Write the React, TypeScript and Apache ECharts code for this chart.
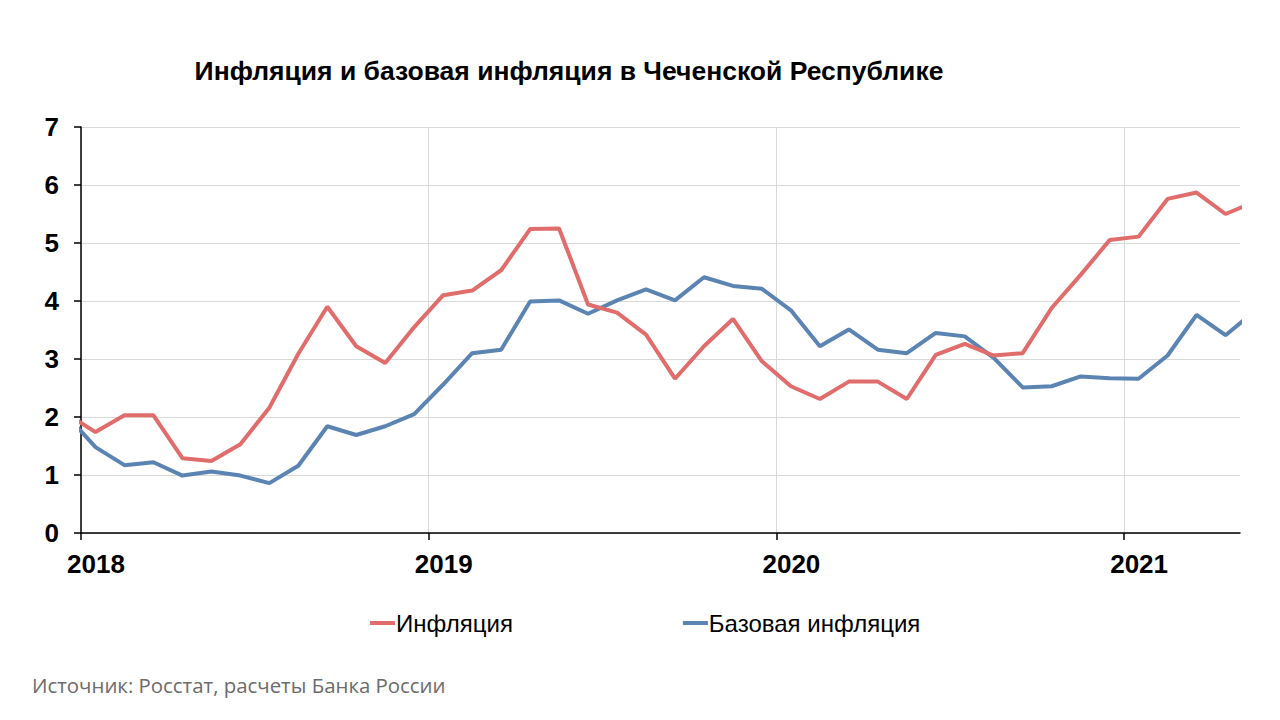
import React, { useEffect, useRef } from "react";
import * as echarts from "echarts";

// Months from Dec 2017 to May 2021 (end points are clipped by the axis range)
const months = [
  "2017-12",
  "2018-01", "2018-02", "2018-03", "2018-04", "2018-05", "2018-06", "2018-07", "2018-08", "2018-09", "2018-10", "2018-11", "2018-12",
  "2019-01", "2019-02", "2019-03", "2019-04", "2019-05", "2019-06", "2019-07", "2019-08", "2019-09", "2019-10", "2019-11", "2019-12",
  "2020-01", "2020-02", "2020-03", "2020-04", "2020-05", "2020-06", "2020-07", "2020-08", "2020-09", "2020-10", "2020-11", "2020-12",
  "2021-01", "2021-02", "2021-03", "2021-04", "2021-05",
];

const inflation = [
  2.06,
  1.74, 2.03, 2.03, 1.29, 1.24, 1.53, 2.16, 3.09, 3.9, 3.22, 2.93, 3.55,
  4.1, 4.18, 4.53, 5.24, 5.25, 3.94, 3.8, 3.42, 2.66, 3.22, 3.69, 2.96,
  2.53, 2.31, 2.61, 2.61, 2.31, 3.07, 3.26, 3.06, 3.1, 3.88, 4.45, 5.05,
  5.11, 5.76, 5.87, 5.5, 5.71,
];

const coreInflation = [
  2.03,
  1.48, 1.17, 1.22, 0.99, 1.06, 0.99, 0.86, 1.16, 1.84, 1.69, 1.84, 2.05,
  2.56, 3.1, 3.16, 3.99, 4.01, 3.78, 4.01, 4.2, 4.01, 4.41, 4.26, 4.21,
  3.84, 3.22, 3.51, 3.16, 3.1, 3.45, 3.39, 3.02, 2.51, 2.53, 2.7, 2.67,
  2.66, 3.06, 3.76, 3.41, 3.82,
];

const yearLabels = ["2018", "2019", "2020", "2021"];
const yTicks = [0, 1, 2, 3, 4, 5, 6, 7];

const titleText = "Инфляция и базовая инфляция в Чеченской Республике";
const sourceText = "Источник: Росстат, расчеты Банка России";
const seriesNames = ["Инфляция", "Базовая инфляция"];

// month offset from Jan 2018, points sit in the middle of each month
const monthPos = (m: string) => {
  const [y, mo] = m.split("-").map(Number);
  return (y - 2018) * 12 + (mo - 1) + 0.5;
};

const FONT = "'Liberation Sans', Arial, sans-serif";

export default function App() {
  const ref = useRef<HTMLDivElement>(null);

  useEffect(() => {
    if (!ref.current) return;
    const chart = echarts.init(ref.current, undefined, { renderer: "svg" });
    const infData = months.map((m, i) => [monthPos(m), inflation[i]]);
    const coreData = months.map((m, i) => [monthPos(m), coreInflation[i]]);

    chart.setOption({
      animation: false,
      backgroundColor: "#ffffff",
      textStyle: { fontFamily: FONT },
      grid: { left: 81, right: 40, top: 127, bottom: 187 },
      graphic: [
        {
          type: "text",
          x: 569,
          y: 71,
          style: {
            text: titleText,
            font: `bold 26.5px ${FONT}`,
            fill: "#000000",
            textAlign: "center",
            textVerticalAlign: "middle",
          },
        },
        {
          type: "text",
          x: 32,
          y: 685,
          style: {
            text: sourceText,
            font: `20.4px 'Open Sans', sans-serif`,
            fill: "#6b6b6b",
            textAlign: "left",
            textVerticalAlign: "middle",
          },
        },
      ],
      legend: {
        left: 365,
        top: 606,
        itemWidth: 25,
        itemHeight: 4,
        itemGap: 170,
        icon: "rect",
        textStyle: { fontSize: 24, color: "#000", fontFamily: FONT, padding: [0, 0, 0, -4] },
        data: seriesNames,
      },
      xAxis: {
        type: "value",
        min: 0,
        max: 40,
        interval: 12,
        axisLine: { show: true, lineStyle: { color: "#000", width: 1.5 } },
        axisTick: {
          show: true,
          length: 7,
          lineStyle: { color: "#000", width: 1.5 },
          customValues: [0, 12, 24, 36],
        },
        axisLabel: {
          customValues: [0, 12, 24, 36],
          formatter: (v: number) => yearLabels[Math.round(v / 12)] ?? "",
          fontSize: 26,
          fontWeight: "bold",
          color: "#000",
          fontFamily: FONT,
          margin: 18,
          padding: [0, 0, 0, 30],
        },
        splitLine: { show: true, lineStyle: { color: "#d9d9d9", width: 1 } },
      },
      yAxis: {
        type: "value",
        min: 0,
        max: 7,
        interval: 1,
        axisLine: { show: true, lineStyle: { color: "#000", width: 1.5 } },
        axisTick: { show: true, length: 7, lineStyle: { color: "#000", width: 1.5 } },
        axisLabel: {
          formatter: (v: number) => (yTicks.includes(v) ? String(v) : ""),
          fontSize: 26,
          fontWeight: "bold",
          color: "#000",
          fontFamily: FONT,
          margin: 22,
        },
        splitLine: { show: true, lineStyle: { color: "#d9d9d9", width: 1 } },
      },
      series: [
        {
          name: seriesNames[0],
          type: "line",
          data: infData,
          showSymbol: false,
          symbol: "none",
          clip: true,
          lineStyle: { color: "#e06c6c", width: 4 },
          itemStyle: { color: "#e06c6c" },
          z: 3,
        },
        {
          name: seriesNames[1],
          type: "line",
          data: coreData,
          showSymbol: false,
          symbol: "none",
          clip: true,
          lineStyle: { color: "#5b84b3", width: 4 },
          itemStyle: { color: "#5b84b3" },
          z: 2,
        },
      ],
    });

    return () => chart.dispose();
  }, []);

  return (
    <div
      ref={ref}
      style={{ position: "fixed", left: 0, top: 0, width: 1280, height: 720 }}
    />
  );
}
